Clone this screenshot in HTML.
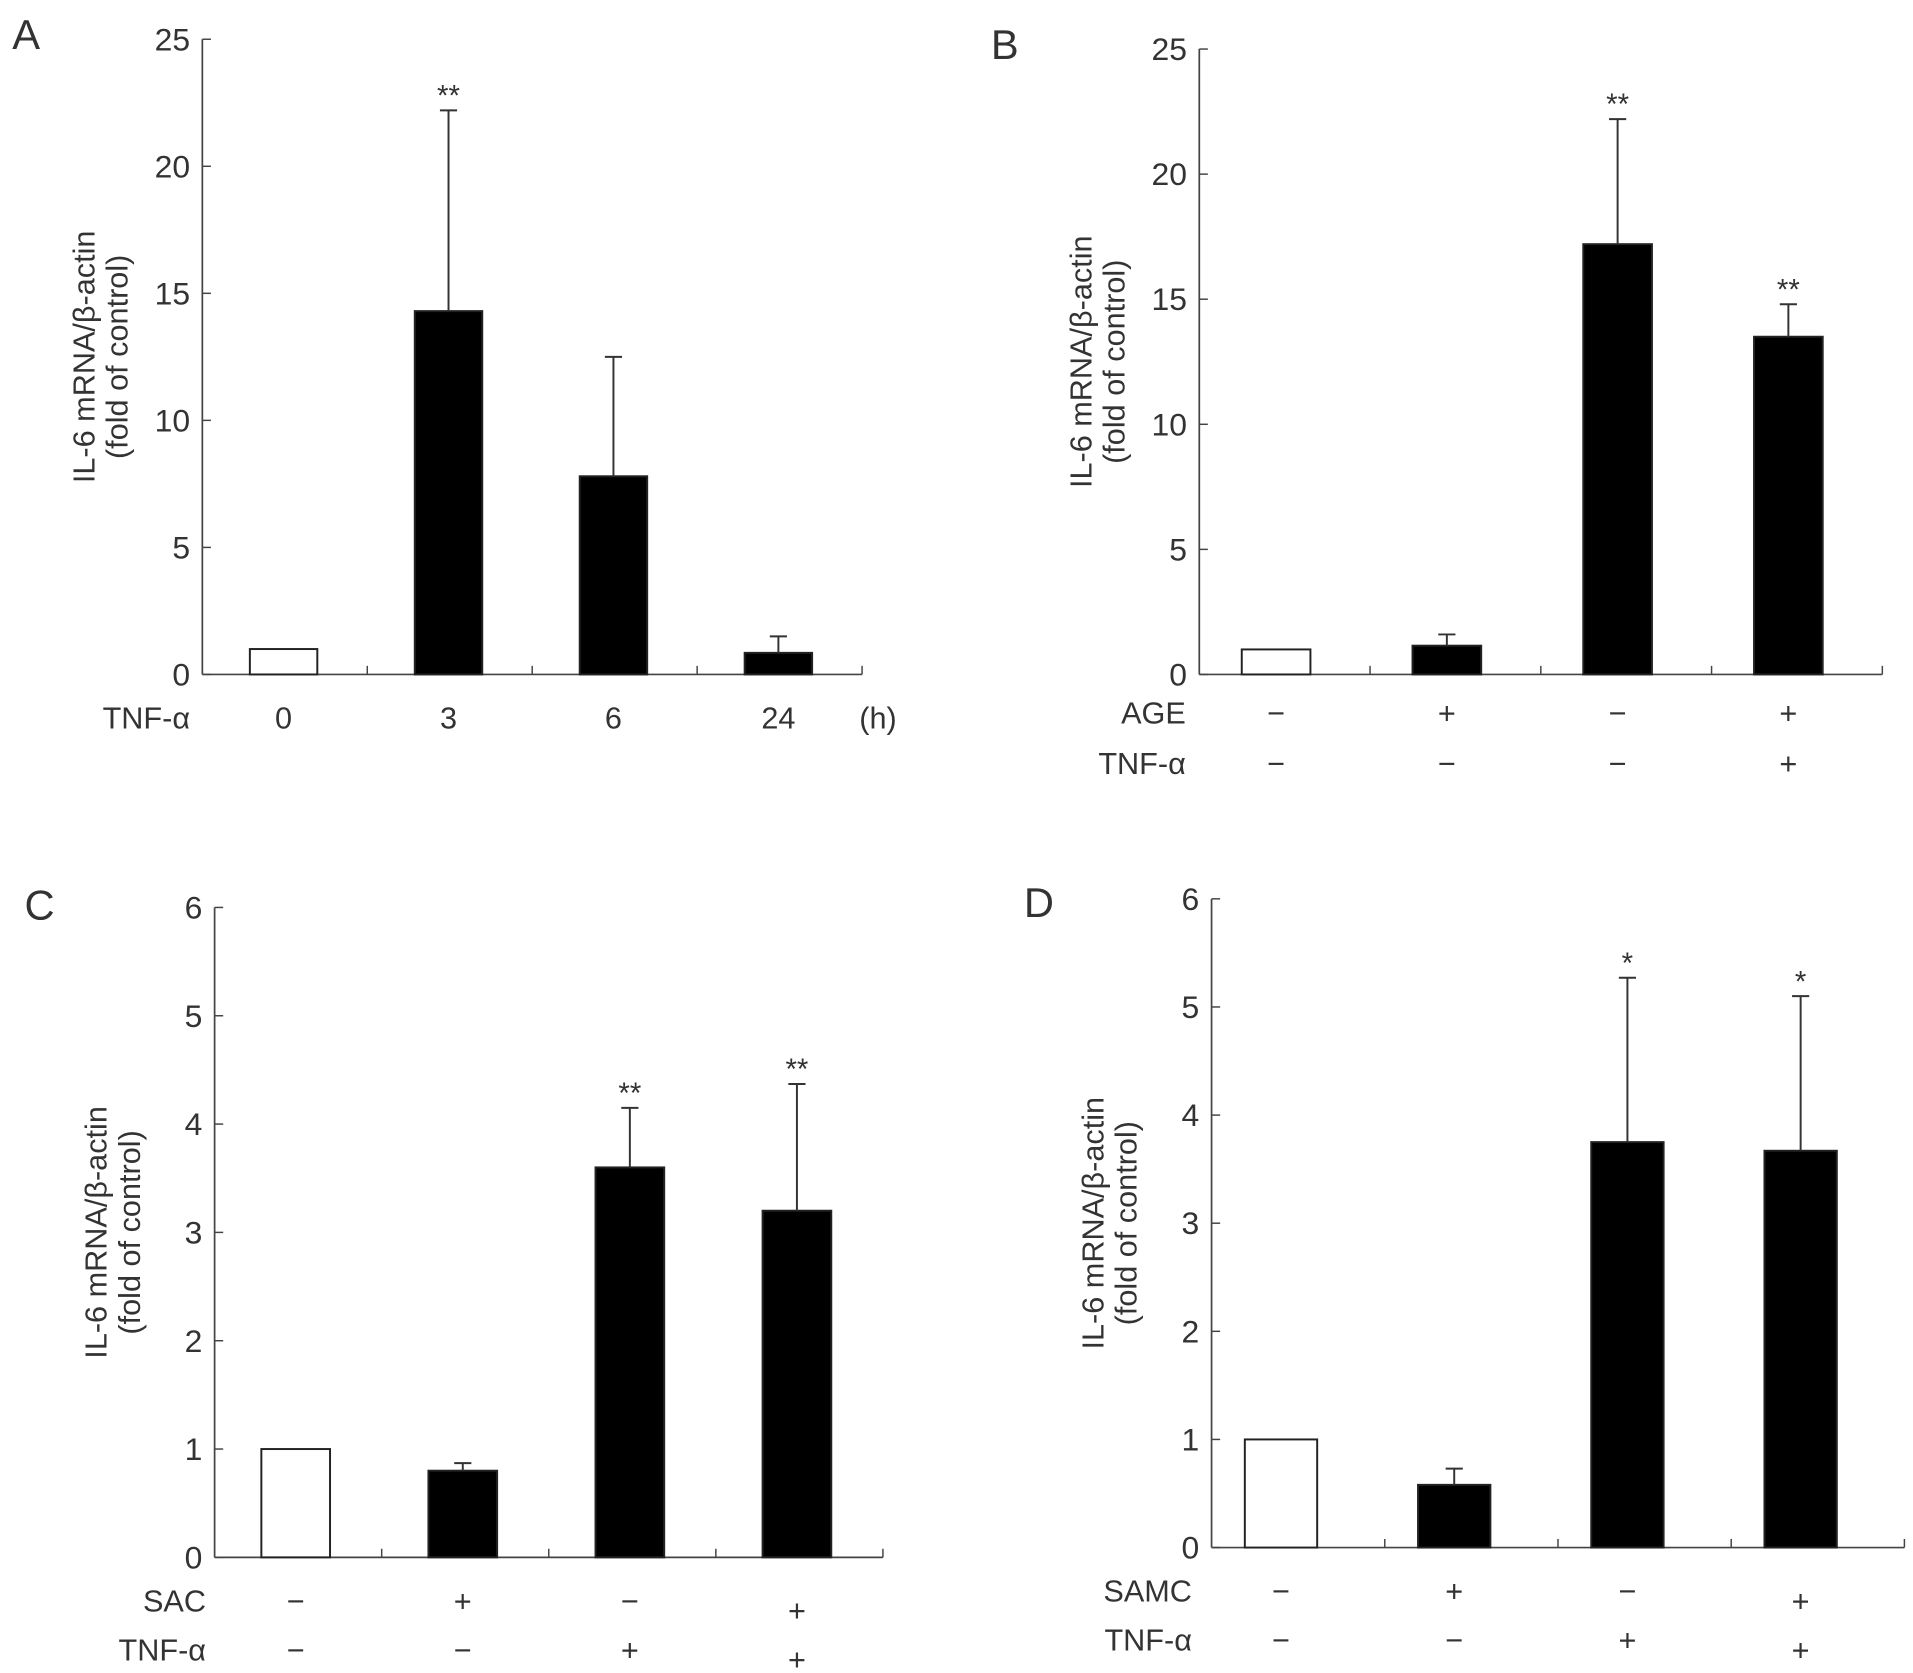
<!DOCTYPE html>
<html><head><meta charset="utf-8"><style>
html,body{margin:0;padding:0;background:#fff;}
svg{display:block;}
text{font-family:"Liberation Sans",sans-serif;fill:#333;}
</style></head><body>
<svg id="fig" width="1913" height="1673" viewBox="0 0 1560 1364.3" xmlns="http://www.w3.org/2000/svg"></svg>
<script>
// Panel A data
const aCategories = ["0", "3", "6", "24"];
const aValues = [1, 14.3, 7.8, 0.85];
const aErrors = [null, 22.2, 12.5, 1.5];
const aStars = ["", "**", "", ""];
const aTicks = [0, 5, 10, 15, 20, 25];
// Panel B data
const bRow1 = ["−", "+", "−", "+"];
const bRow2 = ["−", "−", "−", "+"];
const bValues = [1, 1.15, 17.2, 13.5];
const bErrors = [null, 1.6, 22.2, 14.8];
const bStars = ["", "", "**", "**"];
const bTicks = [0, 5, 10, 15, 20, 25];
// Panel C data
const cRow1 = ["−", "+", "−", "+"];
const cRow2 = ["−", "−", "+", "+"];
const cValues = [1, 0.8, 3.6, 3.2];
const cErrors = [null, 0.87, 4.15, 4.37];
const cStars = ["", "", "**", "**"];
const cTicks = [0, 1, 2, 3, 4, 5, 6];
// Panel D data
const dRow1 = ["−", "+", "−", "+"];
const dRow2 = ["−", "−", "+", "+"];
const dValues = [1, 0.58, 3.75, 3.67];
const dErrors = [null, 0.73, 5.27, 5.1];
const dStars = ["", "", "*", "*"];
const dTicks = [0, 1, 2, 3, 4, 5, 6];

const NS = "http://www.w3.org/2000/svg";
const svg = document.getElementById("fig");
function mk(tag, attrs, parent, txt) {
  const e = document.createElementNS(NS, tag);
  for (const k in attrs) e.setAttribute(k, attrs[k]);
  if (txt !== undefined) e.textContent = txt;
  (parent || svg).appendChild(e);
  return e;
}
function panel(cfg) {
  const g = mk("g", {});
  
  
  const ymax = cfg.ticks[cfg.ticks.length - 1];
  const y = v => cfg.y0 - (v / ymax) * (cfg.y0 - cfg.ytop);
  const n = cfg.values.length;
  const step = (cfg.xend - cfg.x0) / n;
  const xc = i => cfg.x0 + step * (i + 0.5) + cfg.shift;
  const bw = cfg.bw;
  const letter = mk("text", {x: cfg.lx, y: cfg.ly, "font-size": 34}, g, cfg.id);
  
  
  const ax = mk("line", {x1: cfg.x0, y1: cfg.ytop, x2: cfg.x0, y2: cfg.y0, stroke: "#444", "stroke-width": 1.4}, g);
  
  
  const xa = mk("line", {x1: cfg.x0, y1: cfg.y0, x2: cfg.xend, y2: cfg.y0, stroke: "#444", "stroke-width": 1.4}, g);
  
  
  for (let i = 1; i <= n; i++) {
    const tx = cfg.x0 + step * i;
    const t = mk("line", {x1: tx, y1: cfg.y0, x2: tx, y2: cfg.y0 - 7, stroke: "#444", "stroke-width": 1.2}, g);
    
    
  }
  cfg.ticks.forEach(v => {
    const t = mk("line", {x1: cfg.x0, y1: y(v), x2: cfg.x0 + 7, y2: y(v), stroke: "#444", "stroke-width": 1.2}, g);
    
    
    const l = mk("text", {x: cfg.x0 - 10, y: y(v) + 9, "font-size": 26, "text-anchor": "end"}, g, String(v));
    
    
  });
  const yt = mk("text", {transform: `translate(${cfg.x0 - 88},${(cfg.ytop + cfg.y0) / 2}) rotate(-90)`, "font-size": 25, "text-anchor": "middle"}, g);
  
  
  mk("tspan", {x: 0, y: 0}, yt, "IL-6 mRNA/β-actin");
  mk("tspan", {x: 0, y: 27}, yt, "(fold of control)");
  cfg.values.forEach((v, i) => {
    const cx = xc(i);
    const r = mk("rect", {x: cx - bw / 2, y: y(v), width: bw, height: cfg.y0 - y(v), fill: i === 0 ? "#fff" : "#000", stroke: "#222", "stroke-width": 1.6}, g);
    
    
    const e = cfg.errors[i];
    if (e !== null) {
      const el = mk("path", {d: `M${cx},${y(v)}V${y(e)}M${cx - 7},${y(e)}H${cx + 7}`, stroke: "#333", "stroke-width": 1.6, fill: "none"}, g);
      
      
      if (cfg.stars[i]) {
        const s = mk("text", {x: cx, y: y(e) - 4, "font-size": 24, "text-anchor": "middle"}, g, cfg.stars[i]);
        
        
      }
    }
  });
  cfg.rows.forEach((row, ri) => {
    const ry = cfg.rowY[ri];
    const rl = mk("text", {x: cfg.rowLabelX, y: ry + 9, "font-size": 25, "text-anchor": "end"}, g, row.label);
    
    
    row.vals.forEach((s, i) => {
      const dy = (s === "+" && i === 3 && cfg.lastLow) ? 8 : 0;
      const t = mk("text", {x: xc(i), y: ry + 9 + dy, "font-size": 25, "text-anchor": "middle"}, g, s);
      
      
    });
  });
  if (cfg.extra) {
    const t = mk("text", {x: cfg.extra.x, y: cfg.extra.y, "font-size": 25, "text-anchor": "middle"}, g, cfg.extra.t);
    
    
  }
}
panel({id: "A", lx: 10, ly: 40, x0: 165, xend: 703, ytop: 32, y0: 550, shift: -1, bw: 55,
  ticks: aTicks, values: aValues, errors: aErrors, stars: aStars,
  rows: [{label: "TNF-α", vals: aCategories}], rowY: [585], rowLabelX: 155,
  extra: {x: 716, y: 594, t: "(h)"}});
panel({id: "B", lx: 808, ly: 48, x0: 978, xend: 1535, ytop: 40, y0: 550, shift: -7, bw: 56,
  ticks: bTicks, values: bValues, errors: bErrors, stars: bStars,
  rows: [{label: "AGE", vals: bRow1}, {label: "TNF-α", vals: bRow2}], rowY: [581, 622], rowLabelX: 967});
panel({id: "C", lx: 20, ly: 750, x0: 175, xend: 720, ytop: 740, y0: 1270, shift: -2, bw: 56,
  ticks: cTicks, values: cValues, errors: cErrors, stars: cStars,
  rows: [{label: "SAC", vals: cRow1}, {label: "TNF-α", vals: cRow2}], rowY: [1305, 1345], rowLabelX: 168, lastLow: true});
panel({id: "D", lx: 835, ly: 748, x0: 988, xend: 1553, ytop: 733, y0: 1262, shift: -14, bw: 59,
  ticks: dTicks, values: dValues, errors: dErrors, stars: dStars,
  rows: [{label: "SAMC", vals: dRow1}, {label: "TNF-α", vals: dRow2}], rowY: [1297, 1337], rowLabelX: 972, lastLow: true});
</script>
</body></html>
